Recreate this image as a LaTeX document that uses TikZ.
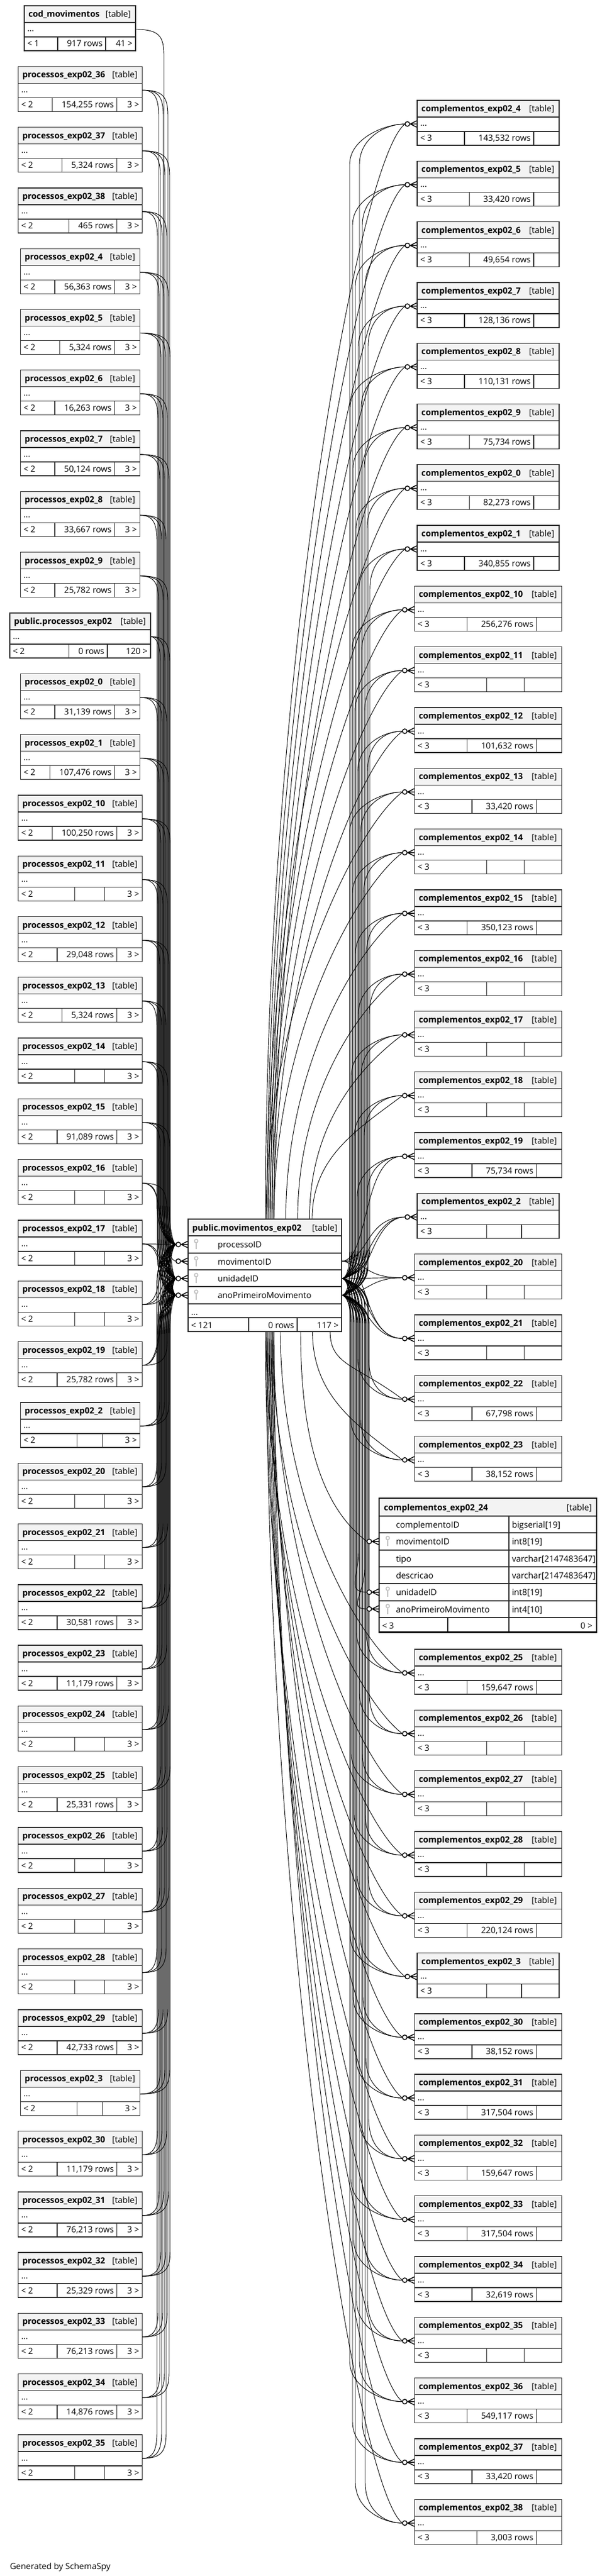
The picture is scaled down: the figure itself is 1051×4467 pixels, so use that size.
\documentclass[tikz,border=0pt]{standalone}
\usepackage{fontspec}
\setmainfont{Open Sans}
\usetikzlibrary{calc}
\definecolor{hdr}{HTML}{F3F3F3}
\definecolor{bord}{HTML}{2B2B2B}
\definecolor{keyc}{HTML}{BDBDBD}
\tikzset{
  tbl/.style={draw=bord,line width=1pt},
  tblbold/.style={draw=black,line width=2.2pt},
  txt/.style={font=\fontsize{11}{13}\selectfont,inner sep=0pt},
  ttl/.style={font=\fontsize{11}{13}\selectfont\bfseries,inner sep=0pt},
  edge/.style={draw=black,line width=0.7pt},
  crowline/.style={draw=black,line width=1.1pt},
}
\def\dashmark{-}
% small table: name, x0, x1, y0, title, left footer, rows, right footer, right cell width
\newcommand{\gtab}[9]{%
  \pgfmathsetmacro{\ya}{#4+29}%
  \pgfmathsetmacro{\yb}{#4+54}%
  \pgfmathsetmacro{\yc}{#4+78}%
  \pgfmathsetmacro{\xd}{#3-#9}%
  \fill[white] (#2,#4) rectangle (#3,\yc);
  \fill[hdr] (#2,#4) rectangle (#3,\ya);
  \node[ttl,anchor=base west] (#1) at (#2+7,#4+19.5) {#5};
  \node[txt,anchor=base east] at (#3-8,#4+19.5) {[table]};
  \node[txt,anchor=base west] at (#2+5,#4+45) {...};
  \node[txt,anchor=base west] at (#2+5,#4+71) {#6};
  \node[txt,anchor=base east] at (#3-5,#4+71) {#8};
  \draw[tbl] (#2,#4) rectangle (#3,\yc) (#2,\ya) -- (#3,\ya) (#2,\yb) -- (#3,\yb) (\xd,\yb) -- (\xd,\yc);
  \edef\tmprows{#7}%
  \ifx\tmprows\dashmark
    \draw[tbl] (\emptyx,\yb) -- (\emptyx,\yc);
  \else
    \node[txt,anchor=base east] (#1r) at (\xd-5,#4+71) {#7};
    \path (#1r.west) ++(-\rowpad,0) coordinate (#1d);
    \draw[tbl] (#1d |- #2,\yb) -- (#1d |- #2,\yc);
  \fi
}
% left edge: port, target, target y, port y, port x, bundle x
\newcommand{\ledge}[6]{%
  \pgfmathsetmacro{\dd}{#3>#4 ? 1 : -1}%
  \pgfmathtruncatemacro{\far}{abs(#3-#4)>160 ? 1 : 0}%
  \ifnum\far=1
    \pgfmathsetmacro{\ea}{#4+\dd*12}%
    \pgfmathsetmacro{\eb}{#4+\dd*45}%
    \pgfmathsetmacro{\ec}{#3-\dd*70}%
    \pgfmathsetmacro{\ed}{#3-\dd*25}%
    \pgfmathsetmacro{\ee}{#6+0.6*(305-#6)}%
    \draw[edge] (#1) .. controls (#6-8,#4) and (#6,\ea) .. (#6,\eb) -- (#6,\ec) .. controls (#6,\ed) and (\ee,#3) .. (#2);
  \else
    \draw[edge] (#1) .. controls (#5+45,#4) and (265,#3) .. (#2);
  \fi
}
% right bundle edge: source, target port, source y, port y, port x, bundle x
\newcommand{\redge}[6]{%
  \pgfmathsetmacro{\dd}{#4>#3 ? 1 : -1}%
  \pgfmathtruncatemacro{\far}{abs(#4-#3)>160 ? 1 : 0}%
  \ifnum\far=1
    \pgfmathsetmacro{\ea}{#3+\dd*15}%
    \pgfmathsetmacro{\eb}{#3+\dd*50}%
    \pgfmathsetmacro{\ec}{#4-\dd*70}%
    \pgfmathsetmacro{\ed}{#4-\dd*25}%
    \draw[edge] (#1) .. controls (600,#3) and (#6,\ea) .. (#6,\eb) -- (#6,\ec) .. controls (#6,\ed) and (#5-35,#4) .. (#2);
  \else
    \draw[edge] (#1) .. controls (635,#3) and (#5-60,#4) .. (#2);
  \fi
}
% diagonal edge from top/bottom of central table: start name, port, port x, port y, index
\newcommand{\dedge}[5]{%
  \pgfmathsetmacro{\ys}{#4<2200 ? 2114 : 2309}%
  \pgfmathsetmacro{\dd}{#4<2200 ? -1 : 1}%
  \pgfmathsetmacro{\DD}{abs(#4-\ys)}%
  \pgfmathsetmacro{\xs}{460+mod(3*#5,16)+max(0,(700-\DD)/6)}%
  \pgfmathsetmacro{\ea}{\ys+\dd*0.5*\DD}%
  \pgfmathsetmacro{\eb}{#4-\dd*60}%
  \coordinate (#1) at (\xs,\ys);
  \draw[edge] (#1) .. controls (\xs,\ea) and (#3-80,\eb) .. (#2);
}
\newcommand{\crowm}[2]{%
  \draw[crowline] (#1-12,#2) -- (#1,#2-6) (#1-12,#2) -- (#1,#2) (#1-12,#2) -- (#1,#2+6);
  \draw[crowline,fill=white] (#1-17,#2) circle[radius=3pt];
}
\newcommand{\keyicon}[2]{%
  \draw[keyc,line width=1.2pt] (#1,#2+9) circle[radius=2.2pt];
  \draw[keyc,line width=1.8pt] (#1,#2+12.5) -- (#1,#2+23);
}
\def\leftlist{1/36/{154,255 rows},2/37/{5,324 rows},3/38/{465 rows},4/4/{56,363 rows},5/5/{5,324 rows},6/6/{16,263 rows},7/7/{50,124 rows},8/8/{33,667 rows},9/9/{25,782 rows},11/0/{31,139 rows},12/1/{107,476 rows},13/10/{100,250 rows},14/11/-,15/12/{29,048 rows},16/13/{5,324 rows},17/14/-,18/15/{91,089 rows},19/16/-,20/17/-,21/18/-,22/19/{25,782 rows},23/2/-,24/20/-,25/21/-,26/22/{30,581 rows},27/23/{11,179 rows},28/24/-,29/25/{25,331 rows},30/26/-,31/27/-,32/28/-,33/29/{42,733 rows},34/3/-,35/30/{11,179 rows},36/31/{76,213 rows},37/32/{25,329 rows},38/33/{76,213 rows},39/34/{14,876 rows},40/35/-}
\def\rightlist{0/4/{143,532 rows},1/5/{33,420 rows},2/6/{49,654 rows},3/7/{128,136 rows},4/8/{110,131 rows},5/9/{75,734 rows},6/0/{82,273 rows},7/1/{340,855 rows},8/10/{256,276 rows},9/11/-,10/12/{101,632 rows},11/13/{33,420 rows},12/14/-,13/15/{350,123 rows},14/16/-,15/17/-,16/18/-,17/19/{75,734 rows},18/2/-,19/20/-,20/21/-,21/22/{67,798 rows},22/23/{38,152 rows},24/25/{159,647 rows},25/26/-,26/27/-,27/28/-,28/29/{220,124 rows},29/3/-,30/30/{38,152 rows},31/31/{317,504 rows},32/32/{159,647 rows},33/33/{317,504 rows},34/34/{32,619 rows},35/35/-,36/36/{549,117 rows},37/37/{33,420 rows},38/38/{3,003 rows}}
\begin{document}
\begin{tikzpicture}[x=0.75pt,y=-0.75pt]
\useasboundingbox (0,0) rectangle (1051,4467);
% ---------- central connection points ----------
\coordinate (CP) at (305,2158);
\coordinate (CM) at (305,2187);
\coordinate (CU) at (305,2217);
\coordinate (CA) at (305,2246);
\coordinate (CMr) at (592,2187);
\coordinate (CUr) at (592,2217);
\coordinate (CAr) at (592,2246);
% ---------- left edges ----------
\coordinate (Lpcod) at (235,51);
\ledge{Lpcod}{CM}{2187}{51}{235}{284}
\coordinate (Lppub) at (261,1104);
\foreach \tn/\ty/\jj in {CP/2158/0,CU/2217/1,CA/2246/2}{
  \pgfmathsetmacro{\bx}{272+mod(30+8*\jj,24)}
  \ledge{Lppub}{\tn}{\ty}{1104}{261}{\bx}
}
\foreach \kk/\sx/\rw in \leftlist {
  \pgfmathsetmacro{\lxb}{\sx>9 ? 246.5 : 242.5}
  \pgfmathsetmacro{\py}{10+105.3*\kk+41}
  \coordinate (Lp\sx) at (\lxb,\py);
  \foreach \tn/\ty/\jj in {CP/2158/0,CU/2217/1,CA/2246/2}{
    \pgfmathsetmacro{\bx}{272+mod(3*\kk+8*\jj,24)}
    \ledge{Lp\sx}{\tn}{\ty}{\py}{\lxb}{\bx}
  }
}
% ---------- right edges ----------
\foreach \mm/\sx/\rw in \rightlist {
  \pgfmathsetmacro{\ww}{\sx>9 ? 255 : 246}
  \pgfmathsetmacro{\qx}{846-\ww/2-21}
  \pgfmathsetmacro{\ryo}{\mm<23 ? 174+105.3*\mm : 2860+105.3*(\mm-24)}
  \pgfmathsetmacro{\qy}{\ryo+41}
  \coordinate (Rp\sx) at (\qx,\qy);
  \foreach \tn/\ty/\jj in {CUr/2217/0,CAr/2246/1}{
    \pgfmathsetmacro{\bx}{606+mod(5*\mm+17*\jj,36)}
    \redge{\tn}{Rp\sx}{\ty}{\qy}{\qx}{\bx}
  }
  \pgfmathtruncatemacro{\nearc}{abs(\qy-2200)<200 ? 1 : 0}
  \ifnum\nearc=1
    \draw[edge] (CMr) .. controls (640,2187) and (\qx-70,\qy) .. (Rp\sx);
  \else
    \dedge{Cs\sx}{Rp\sx}{\qx}{\qy}{\mm}
  \fi
  \pgfmathsetmacro{\rxa}{846-\ww/2}
  \crowm{\rxa}{\qy}
}
\coordinate (R24m) at (636,2673);
\coordinate (R24u) at (636,2761);
\coordinate (R24a) at (636,2790);
\redge{CUr}{R24u}{2217}{2761}{636}{621}
\redge{CAr}{R24a}{2246}{2790}{636}{632}
\dedge{Cs24}{R24m}{636}{2673}{23}
\crowm{657}{2673}
\crowm{657}{2761}
\crowm{657}{2790}
% markers on central table
\crowm{326}{2158}
\crowm{326}{2187}
\crowm{326}{2217}
\crowm{326}{2246}
% ---------- left tables ----------
\def\rowpad{16}
\def\emptyx{140}
\gtab{cod}{42}{235}{10}{cod\_movimentos}{< 1}{917 rows}{41 >}{52}
\gtab{pub}{17}{261}{1063}{public.processos\_exp02}{< 2}{0 rows}{120 >}{75}
\foreach \kk/\sx/\rw in \leftlist {
  \pgfmathsetmacro{\ww}{\sx>9 ? 215 : 207}
  \pgfmathsetmacro{\lxa}{139-\ww/2}
  \pgfmathsetmacro{\lxb}{139+\ww/2}
  \pgfmathsetmacro{\lyo}{10+105.3*\kk}
  \pgfmathsetmacro{\emptyx}{\lxa+98}
  \def\rowpad{16}
  \edef\tmp{\rw}
  \ifx\tmp\dashmark \def\rcw{65}\else\def\rcw{44}\fi
  \gtab{L\sx}{\lxa}{\lxb}{\lyo}{processos\_exp02\_\sx}{< 2}{\rw}{3 >}{\rcw}
}
% ---------- right tables ----------
\foreach \mm/\sx/\rw in \rightlist {
  \pgfmathsetmacro{\ww}{\sx>9 ? 255 : 246}
  \pgfmathsetmacro{\rxa}{846-\ww/2}
  \pgfmathsetmacro{\rxb}{846+\ww/2}
  \pgfmathsetmacro{\ryo}{\mm<23 ? 174+105.3*\mm : 2860+105.3*(\mm-24)}
  \pgfmathsetmacro{\emptyx}{\rxa+0.49*\ww}
  \def\rowpad{24}
  \edef\tmp{\rw}
  \ifx\tmp\dashmark \def\rcw{65}\else\def\rcw{44}\fi
  \gtab{R\sx}{\rxa}{\rxb}{\ryo}{complementos\_exp02\_\sx}{< 3}{\rw}{}{\rcw}
}
% ---------- central table ----------
\fill[white] (326,2114) rectangle (592,2309);
\fill[hdr] (326,2114) rectangle (592,2143);
\draw[tbl] (326,2114) rectangle (592,2309);
\foreach \yy in {2143,2173,2202,2231,2261,2285} \draw[tbl] (326,\yy) -- (592,\yy);
\draw[tbl] (431,2285) -- (431,2309) (515,2285) -- (515,2309);
\node[ttl,anchor=base west] (C) at (333,2134) {public.movimentos\_exp02};
\node[txt,anchor=base east] at (585,2134) {[table]};
\foreach \yy/\lab in {2143/processoID,2173/movimentoID,2202/unidadeID,2231/anoPrimeiroMovimento}{
  \keyicon{340}{\yy}
  \node[txt,anchor=base west] at (377,\yy+20) {\lab};
}
\node[txt,anchor=base west] at (331,2280) {...};
\node[txt,anchor=base west] at (331,2303) {< 121};
\node[txt,anchor=base east] at (510,2303) {0 rows};
\node[txt,anchor=base east] at (587,2303) {117 >};
% ---------- complementos_exp02_24 ----------
\fill[white] (657,2598) rectangle (1034,2830);
\fill[hdr] (657,2598) rectangle (1034,2629);
\foreach \yy in {2629,2658,2688,2717,2746,2776,2805} \draw[tbl,line width=1.3pt] (657,\yy) -- (1034,\yy);
\draw[tbl,line width=1.3pt] (882,2629) -- (882,2830) (776,2805) -- (776,2830);
\draw[tblbold] (657,2598) rectangle (1034,2830);
\node[ttl,anchor=base west] (R24) at (665,2619) {complementos\_exp02\_24};
\node[txt,anchor=base east] at (1026,2619) {[table]};
\foreach \yy/\lab/\typ in {2629/complementoID/bigserial[19],2658/movimentoID/int8[19],2688/tipo/varchar[2147483647],2717/descricao/varchar[2147483647],2746/unidadeID/int8[19],2776/anoPrimeiroMovimento/int4[10]}{
  \node[txt,anchor=base west] at (686,\yy+20) {\lab};
  \node[txt,anchor=base west] at (887,\yy+20) {\typ};
}
\keyicon{672}{2658}
\keyicon{672}{2746}
\keyicon{672}{2776}
\node[txt,anchor=base west] at (662,2824) {< 3};
\node[txt,anchor=base east] at (1027,2824) {0 >};
% ---------- footer ----------
\node[txt,anchor=base west] (gen) at (17,4455) {Generated by SchemaSpy};
\end{tikzpicture}
\end{document}
